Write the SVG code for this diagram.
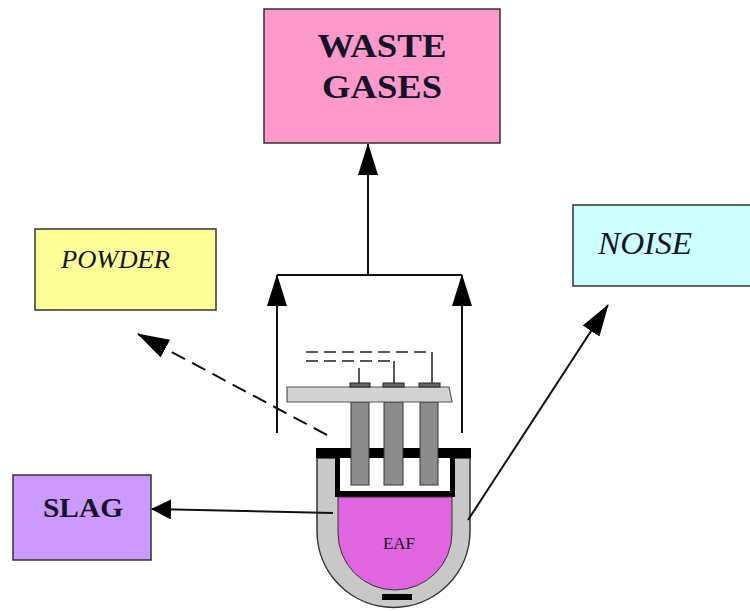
<svg xmlns="http://www.w3.org/2000/svg" width="750" height="611" viewBox="0 0 750 611">
<style>
.box{stroke:#333;stroke-width:1.5}
.lbl{font-family:"Liberation Serif","Times New Roman",serif;fill:#141428}
.b{font-weight:bold}
.i{font-style:italic}
.conn{fill:none;stroke:#111;stroke-width:2}
.dash{stroke-dasharray:15 8}
.wire{fill:none;stroke:#222;stroke-width:1.5}
</style>
<defs>
<marker id="ah" markerUnits="userSpaceOnUse" markerWidth="32" markerHeight="20" refX="31" refY="10" orient="auto">
<path d="M0,0 L32,10 L0,20 Z" fill="#000"/>
</marker>
<marker id="ahs" markerUnits="userSpaceOnUse" markerWidth="20" markerHeight="20" refX="19" refY="10" orient="auto">
<path d="M0,0 L20,10 L0,20 Z" fill="#000"/>
</marker>
</defs>
<rect width="750" height="611" fill="#fff"/>

<g id="waste-gases">
<rect class="box" x="264" y="9" width="236" height="134" fill="#FF99CC"/>
<text class="lbl b" x="382" y="57" font-size="34" text-anchor="middle" textLength="129" lengthAdjust="spacingAndGlyphs">WASTE</text>
<text class="lbl b" x="382" y="98" font-size="34" text-anchor="middle" textLength="120" lengthAdjust="spacingAndGlyphs">GASES</text>
</g>

<g id="powder">
<rect class="box" x="35" y="229" width="181" height="81" fill="#FFFF99"/>
<text class="lbl i" x="61" y="268" font-size="26" textLength="109" lengthAdjust="spacingAndGlyphs">POWDER</text>
</g>

<g id="noise">
<rect class="box" x="573" y="205" width="180" height="81" fill="#CCFFFF"/>
<text class="lbl i" x="598" y="254" font-size="32" textLength="94" lengthAdjust="spacingAndGlyphs">NOISE</text>
</g>

<g id="slag">
<rect class="box" x="13" y="475" width="138" height="85" fill="#CC99FF"/>
<text class="lbl b" x="83" y="517" font-size="28" text-anchor="middle" textLength="80" lengthAdjust="spacingAndGlyphs">SLAG</text>
</g>

<g id="eaf">
<!-- outer vessel -->
<path d="M317,458 L317,531 A76.5,76.5 0 0 0 470,531 L470,458 Z" fill="#C8C8C8" stroke="#333" stroke-width="1.5"/>
<!-- roof -->
<rect x="316" y="448" width="155" height="10" fill="#000"/>
<!-- inner frame -->
<rect x="335" y="458" width="120" height="39" fill="#000"/>
<rect x="340" y="458" width="110" height="33" fill="#fff"/>
<!-- bath -->
<path d="M338,497 L338,533 A57,57 0 0 0 452,533 L452,497 Z" fill="#E066E0" stroke="#333" stroke-width="1"/>
<text class="lbl" x="399" y="549" font-size="16" text-anchor="middle" fill="#3a0050" textLength="32" lengthAdjust="spacingAndGlyphs">EAF</text>
<rect x="382" y="594" width="30" height="6" fill="#000"/>
<!-- electrodes -->
<rect x="351" y="402" width="18" height="83" fill="#8C8C8C" stroke="#333" stroke-width="1"/>
<rect x="384" y="402" width="19" height="83" fill="#8C8C8C" stroke="#333" stroke-width="1"/>
<rect x="420" y="402" width="18" height="83" fill="#8C8C8C" stroke="#333" stroke-width="1"/>
<!-- plate -->
<path d="M287,387 L449,387 L452,402 L287,402 Z" fill="#D3D3D3" stroke="#555" stroke-width="1.2"/>
<!-- caps -->
<rect x="350" y="383" width="20" height="4" fill="#666" stroke="#222" stroke-width="1"/>
<rect x="383" y="383" width="21" height="4" fill="#666" stroke="#222" stroke-width="1"/>
<rect x="419" y="383" width="21" height="4" fill="#666" stroke="#222" stroke-width="1"/>
<!-- wires -->
<path class="wire" d="M306,352 L432,352" stroke-dasharray="12 6"/>
<path class="wire" d="M432,352 L432,383"/>
<path class="wire" d="M306,361 L394,361" stroke-dasharray="12 6"/>
<path class="wire" d="M394,361 L394,383"/>
<path class="wire" d="M359,368 L359,383"/>
</g>

<g id="connectors">
<path class="conn" d="M368,275 L368,144" marker-end="url(#ah)"/>
<path class="conn" d="M277,275 L462,275"/>
<path class="conn" d="M277,433 L277,275" marker-end="url(#ah)"/>
<path class="conn" d="M462,433 L462,275" marker-end="url(#ah)"/>
<path class="conn dash" d="M327,435 L138,334" marker-end="url(#ah)"/>
<path class="conn" d="M333,513 L152,509" marker-end="url(#ahs)"/>
<path class="conn" d="M468,520 L608,305" marker-end="url(#ah)"/>
</g>
</svg>
